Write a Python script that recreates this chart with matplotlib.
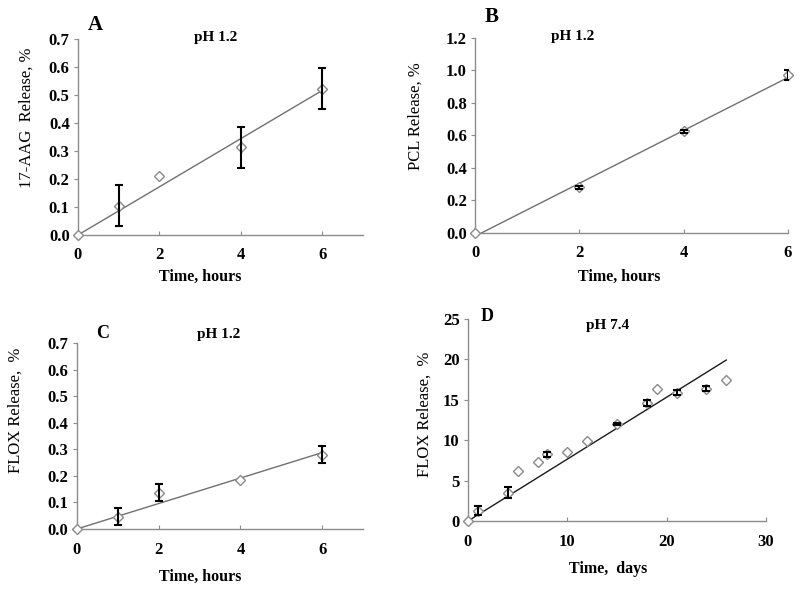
#!/usr/bin/env python3
"""Release profiles for 17-AAG, PCL and FLOX (four panels)."""

import matplotlib

matplotlib.use("Agg")
import matplotlib.pyplot as plt
import numpy as np

plt.rcParams["font.family"] = ["Liberation Serif", "DejaVu Serif"]

# panel A: 17-AAG, pH 1.2
a_time = [0, 1, 2, 4, 6]
a_release = [0.0, 0.105, 0.21, 0.313, 0.522]
a_err = [0.0, 0.072, 0.0, 0.073, 0.073]

# panel B: PCL, pH 1.2
b_time = [0, 2, 4, 6]
b_release = [0.0, 0.28, 0.625, 0.97]
b_err = [0.0, 0.012, 0.01, 0.03]

# panel C: FLOX, pH 1.2
c_time = [0, 1, 2, 4, 6]
c_release = [0.0, 0.047, 0.137, 0.183, 0.28]
c_err = [0.0, 0.032, 0.033, 0.0, 0.032]

# panel D: FLOX, pH 7.4
d_time = [0, 1, 4, 5, 7, 8, 10, 12, 15, 18, 19, 21, 24, 26]
d_release = [0.0, 1.3, 3.5, 6.2, 7.27, 8.26, 8.5, 9.96, 12.0, 14.6, 16.3, 15.9, 16.4, 17.4]
d_err = [0.0, 0.6, 0.66, 0.0, 0.0, 0.3, 0.0, 0.0, 0.15, 0.4, 0.0, 0.3, 0.3, 0.0]

AXIS_GREY = "#8c8c8c"


def trend(x, y, through_origin=True):
    x = np.asarray(x, float)
    y = np.asarray(y, float)
    if through_origin:
        return (x * y).sum() / (x * x).sum(), 0.0
    slope, icpt = np.polyfit(x, y, 1)
    return slope, icpt


def panel(ax, x, y, err, xlim, ylim, yticks, xticks, yfmt, ylabel, xlabel,
          line_color, xlab_pos, ylab_pos, through_origin=True):
    slope, icpt = trend(x, y, through_origin)
    xs = np.linspace(0, max(x), 200)
    ys = slope * xs + icpt
    keep = ys >= 0
    ax.plot(xs[keep], ys[keep], color=line_color, lw=1.0, zorder=2)
    ax.plot(x, y, linestyle="none", marker="D", markersize=4.6,
            markerfacecolor="white", markeredgecolor="#8a8a8a",
            markeredgewidth=1.0, zorder=3, clip_on=False)
    # only points with a measured spread get an error bar
    x = np.asarray(x, float)
    y = np.asarray(y, float)
    err = np.asarray(err, float)
    has = err > 0
    ax.errorbar(x[has], y[has], yerr=err[has], fmt="none", ecolor="black",
                elinewidth=1.5, capsize=3, capthick=1.5, zorder=4)
    ax.set_xlim(*xlim)
    ax.set_ylim(*ylim)
    ax.set_xticks(xticks)
    ax.set_yticks(yticks)
    ax.set_yticklabels([yfmt.format(v) for v in yticks])
    for s in ["top", "right"]:
        ax.spines[s].set_visible(False)
    for s in ["left", "bottom"]:
        ax.spines[s].set_color(AXIS_GREY)
        ax.spines[s].set_linewidth(1.0)
    ax.tick_params(axis="x", direction="in", length=3, color=AXIS_GREY, pad=9,
                   labelsize=12)
    ax.tick_params(axis="y", direction="out", length=3, color=AXIS_GREY, pad=3,
                   labelsize=12)
    for lab in ax.get_xticklabels() + ax.get_yticklabels():
        lab.set_fontweight("bold")
    ax.set_xlabel(xlabel, fontsize=11.5, fontweight="bold", ha="center", va="top")
    ax.xaxis.set_label_coords(*xlab_pos)
    ax.set_ylabel(ylabel, fontsize=12, ha="center", va="center")
    ax.yaxis.set_label_coords(*ylab_pos)


fig = plt.figure(figsize=(8, 5.91), dpi=100)

ax_a = fig.add_axes([0.0975, 0.6024, 0.3565, 0.3316])
ax_b = fig.add_axes([0.594, 0.6058, 0.391, 0.3299])
ax_c = fig.add_axes([0.096, 0.1049, 0.358, 0.3147])
ax_d = fig.add_axes([0.585, 0.1184, 0.3725, 0.3418])

panel(ax_a, a_time, a_release, a_err, (0, 7), (0, 0.7),
      [0, 0.1, 0.2, 0.3, 0.4, 0.5, 0.6, 0.7], [0, 2, 4, 6], "{:.1f}",
      "17-AAG  Release, %", "Time, hours", "#707070",
      (0.428, -0.175), (-0.18, 0.60))
panel(ax_b, b_time, b_release, b_err, (0, 6), (0, 1.2),
      [0, 0.2, 0.4, 0.6, 0.8, 1.0, 1.2], [0, 2, 4, 6], "{:.1f}",
      "PCL Release, %", "Time, hours", "#707070",
      (0.46, -0.185), (-0.19, 0.60), through_origin=False)
panel(ax_c, c_time, c_release, c_err, (0, 7), (0, 0.7),
      [0, 0.1, 0.2, 0.3, 0.4, 0.5, 0.6, 0.7], [0, 2, 4, 6], "{:.1f}",
      "FLOX Release,  %", "Time, hours", "#707070",
      (0.43, -0.215), (-0.215, 0.64))
panel(ax_d, d_time, d_release, d_err, (0, 30), (0, 25),
      [0, 5, 10, 15, 20, 25], [0, 10, 20, 30], "{:.0f}",
      "FLOX Release,  %", "Time,  days", "#1a1a1a",
      (0.47, -0.2), (-0.144, 0.53))

# panel letters and pH captions
fig.text(0.119, 0.957, "A", fontsize=15, fontweight="bold", ha="center", va="center")
fig.text(0.269, 0.937, "pH 1.2", fontsize=11, fontweight="bold", ha="center", va="center")
fig.text(0.615, 0.972, "B", fontsize=15, fontweight="bold", ha="center", va="center")
fig.text(0.716, 0.939, "pH 1.2", fontsize=11, fontweight="bold", ha="center", va="center")
fig.text(0.128, 0.436, "C", fontsize=13, fontweight="bold", ha="center", va="center")
fig.text(0.273, 0.434, "pH 1.2", fontsize=11, fontweight="bold", ha="center", va="center")
fig.text(0.609, 0.464, "D", fontsize=13, fontweight="bold", ha="center", va="center")
fig.text(0.759, 0.450, "pH 7.4", fontsize=11, fontweight="bold", ha="center", va="center")

fig.savefig("out.png", dpi=100, facecolor="white")
